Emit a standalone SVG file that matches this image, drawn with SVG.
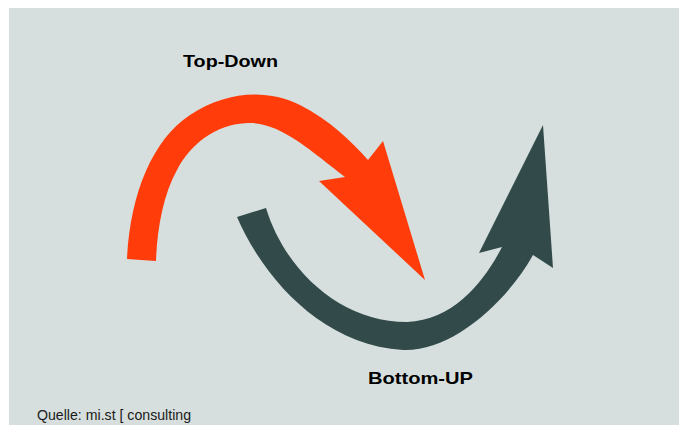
<svg xmlns="http://www.w3.org/2000/svg" width="679" height="425" viewBox="0 0 679 425">
<style>
.lbl{font-family:"Liberation Sans",Arial,sans-serif;font-weight:bold;fill:#000;}
.src{font-family:"Liberation Sans",Arial,sans-serif;fill:#1a1a1a;}
</style>
<rect x="0" y="0" width="679" height="425" fill="#ffffff"/>
<rect x="9" y="8" width="670" height="417" fill="#d6dfdd"/>
<g id="connectors">
<g id="top-down-arrow">
<path fill="#ff3c0a" d="M127,259 C130,195 152,140 190,115 C225,92 265,88 300,105 C330,120 352,142 368,160 L383,141 L425,280 L319,181 L345,177 C310,150 280,122 248,123 C215,124 190,145 177,170 C163,195 157,230 156,261 Z"/>
</g>
<g id="bottom-up-arrow">
<path fill="#324b4a" d="M237,217 C262,275 320,345 403,350 C450,352 505,305 533,255 L553,268 L543,125 L479,253 L502,247 C485,280 455,320 407,322 C340,322 285,270 266,208 Z"/>
</g>
</g>
<g id="top-down">
<text class="lbl" x="183" y="67" font-size="17" textLength="95" lengthAdjust="spacingAndGlyphs">Top-Down</text>
</g>
<g id="bottom-up">
<text class="lbl" x="368" y="384" font-size="17" textLength="105" lengthAdjust="spacingAndGlyphs">Bottom-UP</text>
</g>
<g id="source">
<text class="src" x="37" y="420" font-size="15" textLength="154" lengthAdjust="spacingAndGlyphs">Quelle: mi.st [ consulting</text>
</g>
</svg>
